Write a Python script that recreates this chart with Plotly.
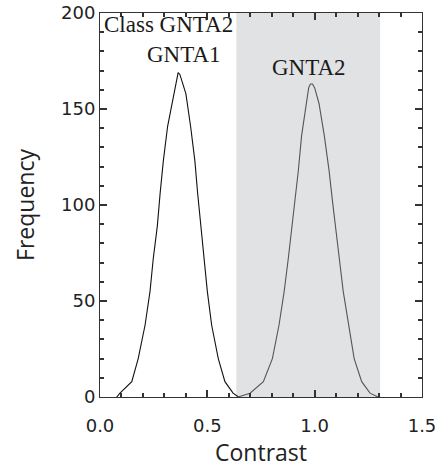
import plotly.graph_objects as go

# Contrast histogram outlines
gnta1_x = [0.078, 0.093, 0.148, 0.178, 0.21, 0.233, 0.248, 0.267, 0.28, 0.295, 0.315, 0.345,
           0.356, 0.364, 0.372, 0.38, 0.40, 0.422, 0.442, 0.455, 0.469, 0.486, 0.50, 0.52,
           0.551, 0.582, 0.62, 0.645]
gnta1_f = [0, 2, 8, 20, 37.5, 55, 72, 89, 106, 123, 141, 158,
           165, 169, 168, 165, 158, 141, 123, 106, 89, 72, 55, 37.5,
           20, 8, 2, 0]

gnta2_x = [0.643, 0.699, 0.761, 0.803, 0.834, 0.858, 0.877, 0.895, 0.908, 0.924, 0.939, 0.96,
           0.972, 0.98, 0.99, 1.0, 1.02, 1.045, 1.067, 1.084, 1.099, 1.115, 1.133, 1.157,
           1.184, 1.219, 1.258, 1.295]
gnta2_f = [0, 2, 8, 20, 37.5, 55, 72, 89, 101, 118, 136, 153,
           161, 163, 163, 161, 153, 136, 118, 101, 88, 72, 55, 37.5,
           20, 8, 2, 0]

band_range = [0.635, 1.305]

fig = go.Figure()
fig.add_shape(type="rect", xref="x", yref="paper", x0=band_range[0], x1=band_range[1],
              y0=0, y1=1, fillcolor="#e1e2e4", line_width=0, layer="below")

fig.add_trace(go.Scatter(x=gnta1_x, y=gnta1_f, mode="lines",
                         line=dict(color="#111111", width=1.1), showlegend=False))
fig.add_trace(go.Scatter(x=gnta2_x, y=gnta2_f, mode="lines",
                         line=dict(color="#555555", width=1.1), showlegend=False))

serif = dict(family="Liberation Serif", size=23, color="#1a1a1a")
fig.add_annotation(x=0.01, y=194, xref="x", yref="y", text="Class GNTA2", showarrow=False,
                   xanchor="left", yanchor="middle", font=serif)
fig.add_annotation(x=0.391, y=178.5, xref="x", yref="y", text="GNTA1", showarrow=False,
                   xanchor="center", yanchor="middle", font=serif)
fig.add_annotation(x=0.975, y=171.5, xref="x", yref="y", text="GNTA2", showarrow=False,
                   xanchor="center", yanchor="middle", font=serif)

axis_common = dict(showgrid=False, zeroline=False, showline=True, linecolor="#333333",
                   linewidth=1, mirror="allticks", ticks="inside", ticklen=7, tickwidth=1.5,
                   tickcolor="#333333", automargin=False,
                   tickfont=dict(family="DejaVu Sans", size=18, color="#222222"))

fig.update_xaxes(range=[0, 1.5], tick0=0, dtick=0.5, tickformat=".1f",
                 ticklabelstandoff=12,
                 minor=dict(dtick=0.1, ticks="inside", ticklen=4, tickwidth=1.5,
                            tickcolor="#333333", showgrid=False),
                 title=dict(text="Contrast", font=dict(family="Open Sans", size=23, color="#222222"),
                            standoff=8),
                 **axis_common)
fig.update_yaxes(range=[0, 200], tick0=0, dtick=50,
                 minor=dict(dtick=10, ticks="inside", ticklen=4, tickwidth=1.5,
                            tickcolor="#333333", showgrid=False),
                 title=dict(text="Frequency", font=dict(family="Open Sans", size=23, color="#222222"),
                            standoff=19),
                 **axis_common)

fig.update_layout(template="none", width=442, height=470,
                  margin=dict(l=100, r=20, t=13, b=73),
                  plot_bgcolor="white", paper_bgcolor="white")

fig.write_html("out.html")
